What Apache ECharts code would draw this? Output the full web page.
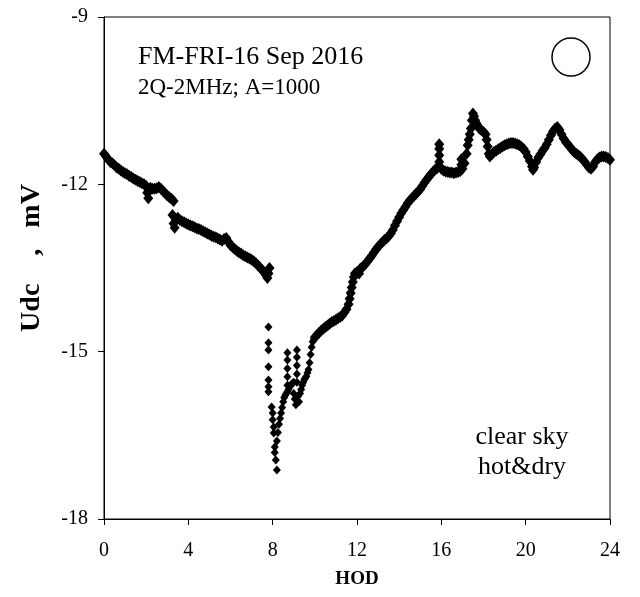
<!DOCTYPE html>
<html><head><meta charset="utf-8">
<script src="https://cdn.jsdelivr.net/npm/echarts@6/dist/echarts.min.js"></script>
<style>html,body{margin:0;padding:0;background:#fff}#c{width:640px;height:597px}</style>
</head><body><div id="c"></div>
<script>
// Night / morning segment (before the step near 3.3 h)
const hodA = [0.0,0.1,0.2,0.3,0.4,0.5,0.6,0.7,0.8,0.9,1.0,1.1,1.2,1.3,1.4,1.5,1.6,1.7,1.8,1.9,2.0,2.05,2.1,2.15,2.2,2.3,2.4,2.5,2.6,2.7,2.8,2.9,3.0,3.1,3.2,3.3];
const udcA = [-11.45,-11.5,-11.55,-11.6,-11.62,-11.66,-11.7,-11.72,-11.75,-11.78,-11.8,-11.82,-11.85,-11.87,-11.9,-11.92,-11.94,-11.96,-11.98,-12.0,-12.03,-12.15,-12.25,-12.12,-12.06,-12.08,-12.08,-12.07,-12.05,-12.08,-12.12,-12.16,-12.2,-12.23,-12.26,-12.3];
// Segment from the step to sunrise
const hodB = [3.25,3.3,3.35,3.4,3.5,3.6,3.7,3.8,3.9,4.0,4.1,4.2,4.3,4.4,4.5,4.6,4.7,4.8,4.9,5.0,5.1,5.2,5.3,5.4,5.5,5.6,5.7,5.8,5.9,6.0,6.1,6.2,6.3,6.4,6.5,6.6,6.7,6.8,6.9,7.0,7.1,7.2,7.3,7.4,7.5,7.6,7.7,7.75,7.8,7.85];
const udcB = [-12.55,-12.7,-12.78,-12.62,-12.6,-12.64,-12.66,-12.68,-12.7,-12.72,-12.74,-12.75,-12.77,-12.79,-12.8,-12.82,-12.84,-12.86,-12.88,-12.9,-12.92,-12.94,-12.95,-12.97,-12.99,-13.01,-12.98,-12.96,-13.03,-13.09,-13.13,-13.16,-13.19,-13.22,-13.24,-13.27,-13.29,-13.31,-13.33,-13.35,-13.38,-13.41,-13.45,-13.49,-13.53,-13.58,-13.64,-13.68,-13.6,-13.5];
// Sunrise dip (scattered)
const hodC = [7.8,7.8,7.8,7.8,7.8,7.8,7.8,7.95,8.0,8.0,8.05,8.05,8.1,8.1,8.15,8.2,8.2,8.25,8.3,8.35,8.4,8.45,8.5,8.55,8.6,8.65,8.7,8.7,8.7,8.7,8.7,8.7,8.75,8.8,8.85,8.9,8.95,9.0,9.0,9.05,9.1,9.15,9.15,9.15,9.15,9.15,9.2,9.25,9.3,9.35,9.4,9.45,9.5,9.55,9.6,9.65,9.7,9.75,9.8,9.85,9.9,9.95];
const udcC = [-14.56,-14.84,-14.97,-15.27,-15.51,-15.63,-15.72,-15.99,-16.1,-16.22,-16.35,-16.46,-16.71,-16.81,-16.94,-17.12,-16.6,-16.45,-16.3,-16.2,-16.1,-16.0,-15.9,-15.82,-15.78,-15.75,-15.02,-15.15,-15.3,-15.45,-15.6,-15.72,-15.68,-15.64,-15.6,-15.58,-15.56,-15.55,-15.75,-15.85,-15.95,-14.97,-15.1,-15.25,-15.4,-15.55,-15.8,-15.9,-15.75,-15.68,-15.6,-15.55,-15.5,-15.47,-15.44,-15.38,-15.32,-15.2,-15.05,-14.92,-14.82,-14.78];
// Daytime rise
const hodD = [10.0,10.1,10.2,10.3,10.4,10.5,10.6,10.7,10.8,10.9,11.0,11.1,11.2,11.3,11.4,11.5,11.6,11.65,11.7,11.75,11.8,11.85,11.9,12.0,12.1,12.15,12.2,12.3,12.4,12.5,12.6,12.7,12.8,12.9,13.0,13.1,13.2,13.3,13.4,13.5,13.6,13.7,13.8,13.9,14.0,14.1,14.2,14.3,14.4,14.5,14.6,14.7,14.8,14.9,15.0,15.1,15.2,15.3,15.4,15.5,15.6,15.7,15.8,15.9,15.9,15.9,15.9,16.0];
const udcD = [-14.74,-14.7,-14.66,-14.62,-14.59,-14.56,-14.53,-14.5,-14.47,-14.45,-14.43,-14.4,-14.38,-14.35,-14.3,-14.24,-14.15,-14.05,-13.95,-13.85,-13.75,-13.66,-13.6,-13.57,-13.6,-13.52,-13.5,-13.47,-13.43,-13.38,-13.33,-13.28,-13.22,-13.17,-13.12,-13.08,-13.04,-13.0,-12.97,-12.93,-12.88,-12.82,-12.74,-12.66,-12.59,-12.52,-12.46,-12.4,-12.34,-12.29,-12.25,-12.21,-12.17,-12.13,-12.09,-12.03,-11.97,-11.92,-11.87,-11.82,-11.78,-11.74,-11.71,-11.6,-11.48,-11.36,-11.28,-11.72];
// Afternoon / evening
const hodE = [16.1,16.2,16.3,16.4,16.5,16.6,16.7,16.8,16.9,16.95,16.95,17.0,17.1,17.2,17.25,17.3,17.35,17.4,17.45,17.5,17.55,17.6,17.65,17.7,17.8,17.9,18.0,18.1,18.15,18.2,18.25,18.3,18.4,18.5,18.6,18.7,18.8,18.9,19.0,19.1,19.2,19.3,19.4,19.5,19.6,19.7,19.8,19.9,20.0,20.1,20.2,20.3,20.35,20.4,20.5,20.6,20.7,20.8,20.9,21.0,21.1,21.2,21.3,21.4,21.5,21.6,21.7,21.8,21.9,22.0,22.1,22.2,22.3,22.4,22.5,22.6,22.7,22.8,22.9,23.0,23.1,23.2,23.3,23.4,23.5,23.6,23.7,23.8,23.9,24.0];
const udcE = [-11.75,-11.77,-11.78,-11.79,-11.79,-11.8,-11.79,-11.78,-11.76,-11.65,-11.55,-11.72,-11.62,-11.45,-11.3,-11.2,-11.1,-11.0,-10.85,-10.73,-10.78,-10.85,-10.9,-10.93,-11.0,-11.03,-11.06,-11.1,-11.2,-11.32,-11.45,-11.5,-11.46,-11.42,-11.4,-11.37,-11.35,-11.32,-11.3,-11.28,-11.27,-11.26,-11.26,-11.27,-11.28,-11.3,-11.33,-11.36,-11.42,-11.5,-11.58,-11.68,-11.74,-11.7,-11.6,-11.52,-11.46,-11.4,-11.35,-11.28,-11.2,-11.12,-11.05,-11.0,-10.97,-11.02,-11.1,-11.18,-11.24,-11.28,-11.33,-11.38,-11.42,-11.45,-11.48,-11.51,-11.55,-11.6,-11.65,-11.7,-11.72,-11.68,-11.6,-11.55,-11.52,-11.5,-11.5,-11.51,-11.53,-11.56];

const xTicks = [0, 4, 8, 12, 16, 20, 24];
const yTicks = [-18, -15, -12, -9];

function pairs(list) {
  const out = [];
  list.forEach(([h, u]) => { for (let i = 0; i < h.length; i++) out.push([h[i], u[i]]); });
  return out;
}
const bandPts = pairs([[hodA,udcA],[hodB,udcB],[hodD,udcD],[hodE,udcE]]);
const dipPts = pairs([[hodC,udcC]]);

const FONT = 'Liberation Serif';
const chart = echarts.init(document.getElementById('c'), null, {renderer: 'canvas'});
chart.setOption({
  animation: false,
  backgroundColor: '#fff',
  grid: {left: 104, right: 30, top: 17, bottom: 78, show: true, borderColor: '#000', borderWidth: 1},
  xAxis: {
    type: 'value', min: xTicks[0], max: xTicks[xTicks.length-1], interval: 4,
    name: 'HOD', nameLocation: 'middle', nameGap: 51,
    nameTextStyle: {fontFamily: FONT, fontWeight: 'bold', fontSize: 19, color: '#000'},
    axisLine: {lineStyle: {color: '#000', width: 1}},
    axisTick: {show: true, inside: false, length: 6, lineStyle: {color: '#000'}},
    axisLabel: {fontFamily: FONT, fontSize: 20, color: '#000', margin: 22},
    splitLine: {show: false}
  },
  yAxis: {
    type: 'value', min: yTicks[0], max: yTicks[yTicks.length-1], interval: 3,
    axisLine: {lineStyle: {color: '#000', width: 1}},
    axisTick: {show: true, inside: false, length: 6, lineStyle: {color: '#000'}},
    axisLabel: {fontFamily: FONT, fontSize: 20, color: '#000', margin: 16},
    splitLine: {show: false}
  },
  series: [
    {type: 'scatter', data: bandPts, symbol: 'diamond', symbolSize: [10, 12],
     itemStyle: {color: '#000', opacity: 1}, silent: true},
    {type: 'scatter', data: dipPts, symbol: 'diamond', symbolSize: [8, 9],
     itemStyle: {color: '#000', opacity: 1}, silent: true}
  ],
  graphic: [
    {type: 'text', x: 32, y: 258, rotation: Math.PI / 2,
     style: {text: 'Udc    ,   mV', font: 'bold 28px "Liberation Serif"', fill: '#000', align: 'center', verticalAlign: 'middle'}},
    {type: 'text', left: 138, top: 44, style: {text: 'FM-FRI-16 Sep 2016', font: '26px "Liberation Serif"', fill: '#000'}},
    {type: 'text', left: 138, top: 76, style: {text: '2Q-2MHz; A=1000', font: '23px "Liberation Serif"', fill: '#000'}},
    {type: 'circle', shape: {cx: 571, cy: 57, r: 19}, style: {fill: 'none', stroke: '#000', lineWidth: 1.5}},
    {type: 'text', x: 522, y: 437, style: {text: 'clear sky', font: '26px "Liberation Serif"', fill: '#000', align: 'center', verticalAlign: 'middle'}},
    {type: 'text', x: 522, y: 467, style: {text: 'hot&dry', font: '26px "Liberation Serif"', fill: '#000', align: 'center', verticalAlign: 'middle'}}
  ]
});
</script></body></html>
